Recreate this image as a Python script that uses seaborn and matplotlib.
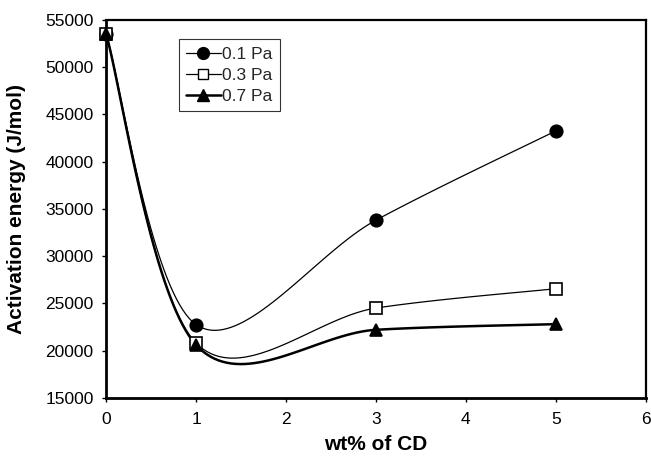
import numpy as np
import pandas as pd
import matplotlib
matplotlib.use("Agg")
import matplotlib.pyplot as plt
from matplotlib.lines import Line2D
import seaborn as sns

# data
wt_cd = [0, 1, 3, 5]
series_names = ["0.1 Pa", "0.3 Pa", "0.7 Pa"]
energy_01 = [53500, 22750, 33800, 43250]
energy_03 = [53500, 20800, 24500, 26550]
energy_07 = [53500, 20600, 22200, 22800]

sns.set_style("ticks")
plt.rcParams["font.family"] = ["Liberation Sans", "DejaVu Sans"]


# excel-like smoothed line (catmull-rom as cubic bezier)
def smooth_curve(xs, ys, n=40):
    pts = np.column_stack([xs, ys]).astype(float)
    pts = np.vstack([pts[0], pts, pts[-1]])
    out = []
    for i in range(1, len(pts) - 2):
        p0, p1, p2, p3 = pts[i - 1], pts[i], pts[i + 1], pts[i + 2]
        c1 = p1 + (p2 - p0) / 6.0
        c2 = p2 - (p3 - p1) / 6.0
        t = np.linspace(0, 1, n)[:, None]
        seg = ((1 - t) ** 3) * p1 + 3 * ((1 - t) ** 2) * t * c1 + 3 * (1 - t) * t ** 2 * c2 + t ** 3 * p2
        out.append(seg if i == 1 else seg[1:])
    out = np.vstack(out)
    return out[:, 0], out[:, 1]


all_values = [energy_01, energy_03, energy_07]
markers = {"0.1 Pa": "o", "0.3 Pa": "s", "0.7 Pa": "^"}
facecolors = {"0.1 Pa": "black", "0.3 Pa": "white", "0.7 Pa": "black"}
widths = {"0.1 Pa": 0.9, "0.3 Pa": 0.9, "0.7 Pa": 1.8}
msizes = {"0.1 Pa": 9, "0.3 Pa": 8, "0.7 Pa": 8.5}

fig = plt.figure(figsize=(6.51, 4.61), dpi=100)
ax = fig.add_axes([0.163, 0.137, 0.829, 0.82])

for name, vals in zip(series_names, all_values):
    sx, sy = smooth_curve(wt_cd, vals)
    curve = pd.DataFrame({"x": sx, "y": sy})
    sns.lineplot(data=curve, x="x", y="y", color="black", lw=widths[name],
                 sort=False, estimator=None, ax=ax, zorder=2)
    pts = pd.DataFrame({"x": wt_cd, "y": vals})
    ax.plot(pts["x"], pts["y"], ls="none", marker=markers[name], ms=msizes[name],
            mfc=facecolors[name], mec="black", mew=1.2, zorder=3, clip_on=False)

ax.set_xlim(0, 6)
ax.set_ylim(15000, 55000)
ax.set_xticks(range(0, 7))
ax.set_yticks(range(15000, 55001, 5000))
ax.tick_params(labelsize=12.5, length=3, width=1, color="black", labelcolor="black")
ax.tick_params(axis="y", pad=6)
ax.tick_params(axis="x", pad=7)
for side in ["left", "bottom"]:
    ax.spines[side].set_linewidth(2.0)
for side in ["top", "right"]:
    ax.spines[side].set_linewidth(1.6)
for sp in ax.spines.values():
    sp.set_color("black")

ax.set_xlabel("wt% of CD", fontsize=15, fontweight="bold", color="black")
ax.set_ylabel("Activation energy (J/mol)", fontsize=15, fontweight="bold", color="black")
ax.xaxis.set_label_coords(0.5, -0.098)
ax.yaxis.set_label_coords(-0.148, 0.5)

handles = [
    Line2D([], [], color="black", lw=widths[n], marker=markers[n], ms=msizes[n] - 0.5,
           mfc=facecolors[n], mec="black")
    for n in series_names
]
leg = ax.legend(handles, series_names, loc="upper left", bbox_to_anchor=(0.135, 0.948),
                frameon=True, fancybox=False, edgecolor="black", fontsize=12.5,
                handlelength=2.0, handletextpad=0.1, borderpad=0.4, labelspacing=0.35,
                borderaxespad=0)
leg.get_frame().set_linewidth(0.8)

plt.savefig("out.png", dpi=100)
plt.close()
